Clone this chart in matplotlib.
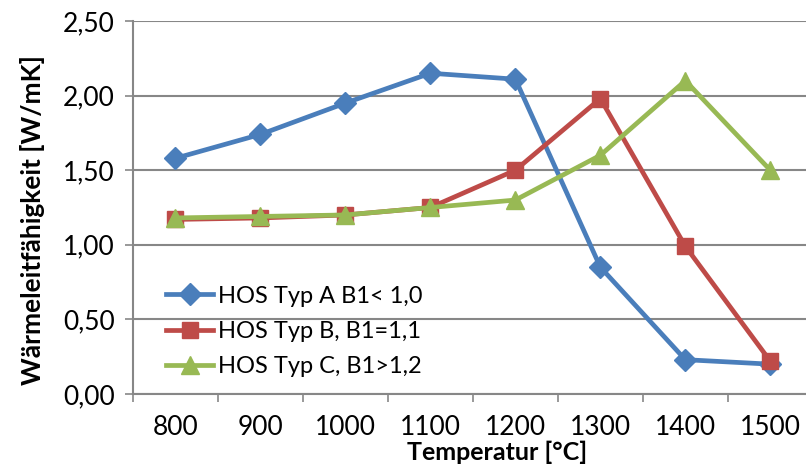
import matplotlib.pyplot as plt
import numpy as np

temperaturen = ['800', '900', '1000', '1100', '1200', '1300', '1400', '1500']
typ_a = [1.58, 1.74, 1.95, 2.15, 2.11, 0.85, 0.23, 0.20]
typ_b = [1.17, 1.18, 1.20, 1.25, 1.50, 1.98, 0.99, 0.22]
typ_c = [1.18, 1.19, 1.20, 1.25, 1.30, 1.60, 2.10, 1.50]
y_ticks = [0, 0.5, 1.0, 1.5, 2.0, 2.5]

plt.rcParams['font.family'] = ['Lato', 'DejaVu Sans']

fig = plt.figure(figsize=(8.06, 4.66), dpi=100)
ax = fig.add_axes([133 / 806, 1 - 394 / 466, 1 - 133 / 806, (394 - 21) / 466])

x = np.arange(len(temperaturen))
ax.plot(x, typ_a, color='#4A7EBB', lw=3.4, marker='D', ms=11, label='HOS Typ A B1< 1,0')
ax.plot(x, typ_b, color='#BE4B48', lw=3.4, marker='s', ms=11, label='HOS Typ B, B1=1,1')
ax.plot(x, typ_c, color='#98B954', lw=3.4, marker='^', ms=13, label='HOS Typ C, B1>1,2')

ax.set_xlim(-0.5, 7.42)
ax.set_ylim(0, 2.5)
ax.set_yticks(y_ticks)
ax.set_yticklabels([f'{v:.2f}'.replace('.', ',') for v in y_ticks], fontsize=19)
ax.set_xticks(x)
ax.set_xticklabels(temperaturen, fontsize=19)
ax.set_xticks(np.arange(-0.5, 7.5, 1), minor=True)
ax.tick_params(axis='x', which='major', length=0, pad=15)
ax.tick_params(axis='x', which='minor', length=6, color='#878787', width=1.2)
ax.tick_params(axis='y', length=6, color='#878787', width=1.2, pad=7)

ax.grid(axis='y', color='#878787', lw=1.5)
ax.set_axisbelow(True)
for s in ['top', 'right']:
    ax.spines[s].set_visible(False)
for s in ['left', 'bottom']:
    ax.spines[s].set_color('#878787')
    ax.spines[s].set_linewidth(1.5)

ax.set_ylabel('Wärmeleitfähigkeit [W/mK]', fontsize=19, fontweight='bold', va='center')
ax.yaxis.set_label_coords(-100 / 673, 0.466)
fig.text(497 / 806, 1 - 452 / 466, 'Temperatur [°C]', fontsize=18, fontweight='bold',
         ha='center', va='center')

ax.legend(loc='lower left', bbox_to_anchor=(0.035, 0.02), frameon=False, fontsize=17,
          handlelength=2.0, labelspacing=0.6, handletextpad=0.2, borderaxespad=0)

fig.savefig('out.png', dpi=100)
